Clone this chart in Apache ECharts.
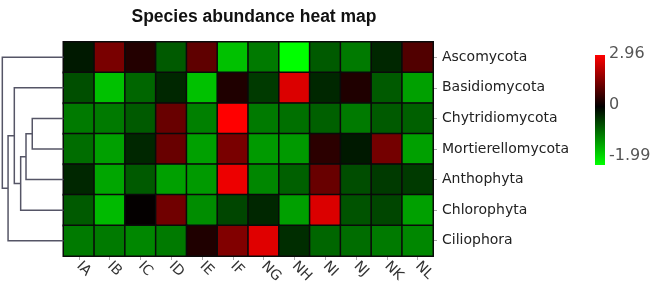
<!DOCTYPE html>
<html>
<head>
<meta charset="utf-8">
<script src="https://cdn.jsdelivr.net/npm/echarts@6/dist/echarts.min.js"></script>
<style>
  html, body { margin: 0; padding: 0; background: #fff; }
  #heatmap { width: 657px; height: 289px; }
</style>
</head>
<body>
<div id="heatmap"></div>
<script>
// samples along x, phyla along y (top to bottom)
const samples = ['IA', 'IB', 'IC', 'ID', 'IE', 'IF', 'NG', 'NH', 'NI', 'NJ', 'NK', 'NL'];
const phyla = ['Ascomycota', 'Basidiomycota', 'Chytridiomycota', 'Mortierellomycota', 'Anthophyta', 'Chlorophyta', 'Ciliophora'];

// z-scores, one row per phylum
const ascomycota        = [-0.2, 1.4, 0.4, -0.7, 1.1, -1.5, -0.95, -1.99, -0.7, -0.95, -0.3, 0.95];
const basidiomycota     = [-0.62, -1.5, -0.8, -0.3, -1.5, 0.35, -0.45, 2.55, -0.3, 0.35, -0.7, -1.25];
const chytridiomycota   = [-0.95, -0.95, -0.7, 1.2, -1.0, 2.96, -0.95, -0.87, -0.75, -0.95, -0.7, -0.75];
const mortierellomycota = [-0.85, -1.25, -0.3, 1.2, -1.25, 1.4, -1.2, -1.2, 0.5, -0.2, 1.35, -1.25];
const anthophyta        = [-0.3, -1.3, -0.7, -1.25, -1.2, 2.75, -1.05, -0.75, 1.2, -0.6, -0.45, -0.45];
const chlorophyta       = [-0.7, -1.45, 0.05, 1.3, -1.1, -0.55, -0.3, -1.25, 2.55, -0.65, -0.55, -1.25];
const ciliophora        = [-0.95, -0.95, -1.05, -0.95, 0.35, 1.5, 2.6, -0.35, -0.8, -0.85, -0.95, -1.05];
const rows = [ascomycota, basidiomycota, chytridiomycota, mortierellomycota, anthophyta, chlorophyta, ciliophora];

// colour scale limits and the labels beside the colour bar
const scaleMin = -1.99;
const scaleMax = 2.96;
const scaleLabels = ['2.96', '0', '-1.99'];

// row dendrogram, linkage style: [nodeA, nodeB, height]; leaves are 0..6, new nodes 7..
const linkage = [
  [2, 3, 3.1],
  [7, 4, 3.72],
  [8, 5, 4.25],
  [1, 9, 4.88],
  [10, 6, 5.5],
  [0, 11, 6.07]
];

const heatData = [];
rows.forEach((vals, r) => {
  vals.forEach((v, c) => heatData.push([c, r, v]));
});

// dendrogram U-shapes
const nodePos = phyla.map((p, i) => ({ y: i, h: 0 }));
const dendroLines = [];
linkage.forEach(([a, b, h]) => {
  const na = nodePos[a], nb = nodePos[b];
  dendroLines.push({ coords: [[na.h, na.y], [h, na.y], [h, nb.y], [nb.h, nb.y]] });
  nodePos.push({ y: (na.y + nb.y) / 2, h: h });
});

// green -> black -> red, black at zero
function scaleColor(v) {
  if (v < 0) {
    const g = Math.round(255 * Math.min(1, -v / -scaleMin));
    return 'rgb(0,' + g + ',0)';
  }
  const r = Math.round(255 * Math.min(1, v / scaleMax));
  return 'rgb(' + r + ',0,0)';
}
const colorStops = [];
for (let i = 0; i <= 60; i++) {
  colorStops.push(scaleColor(scaleMin + (scaleMax - scaleMin) * i / 60));
}

const titleFont = '"Liberation Sans", Arial, sans-serif';
const font = '"DejaVu Sans", sans-serif';
const gridTop = 42, gridHeight = 214, gridLeft = 63.5, gridWidth = 369.5;
const barX = 595, barY = 55, barH = 110;

const chart = echarts.init(document.getElementById('heatmap'));
const option = {
  animation: false,
  backgroundColor: '#fff',
  textStyle: { fontFamily: font },
  title: {
    text: 'Species abundance heat map',
    left: 249,
    textAlign: 'center',
    top: 3,
    textStyle: { fontSize: 17.5, fontWeight: 'bold', color: '#111', fontFamily: titleFont }
  },
  grid: [
    { left: gridLeft, top: gridTop, width: gridWidth, height: gridHeight },
    { left: 0, top: gridTop, width: gridLeft, height: gridHeight }
  ],
  xAxis: [
    {
      type: 'category',
      data: samples,
      gridIndex: 0,
      position: 'bottom',
      axisLine: { show: false },
      axisTick: { show: true, alignWithLabel: true, length: 4, lineStyle: { color: '#aaa' } },
      axisLabel: { rotate: -45, fontSize: 14, color: '#333', margin: 8, fontFamily: font }
    },
    { type: 'value', gridIndex: 1, min: 0, max: 6.3, inverse: true, show: false }
  ],
  yAxis: [
    {
      type: 'category',
      data: phyla,
      gridIndex: 0,
      inverse: true,
      position: 'right',
      axisLine: { show: true, lineStyle: { color: '#ccc' } },
      axisTick: { show: true, alignWithLabel: true, length: 4, lineStyle: { color: '#aaa' } },
      axisLabel: { fontSize: 14, color: '#222', margin: 9, fontFamily: font }
    },
    { type: 'value', gridIndex: 1, min: -0.5, max: 6.5, inverse: true, show: false }
  ],
  visualMap: {
    show: false,
    type: 'continuous',
    min: scaleMin,
    max: scaleMax,
    seriesIndex: 0,
    inRange: { color: colorStops }
  },
  series: [
    {
      type: 'heatmap',
      xAxisIndex: 0,
      yAxisIndex: 0,
      data: heatData,
      itemStyle: { borderColor: '#0a0a0a', borderWidth: 1.5 }
    },
    {
      type: 'lines',
      coordinateSystem: 'cartesian2d',
      xAxisIndex: 1,
      yAxisIndex: 1,
      polyline: true,
      silent: true,
      lineStyle: { color: '#555566', width: 1.5, opacity: 1 },
      data: dendroLines
    }
  ],
  graphic: [
    {
      type: 'rect',
      shape: { x: barX, y: barY, width: 10, height: barH },
      style: {
        fill: new echarts.graphic.LinearGradient(0, 0, 0, 1, [
          { offset: 0, color: '#ff0000' },
          { offset: 0.47, color: '#000000' },
          { offset: 1, color: '#00ff00' }
        ])
      }
    },
    {
      type: 'text', left: barX + 14, top: barY - 9,
      style: { text: scaleLabels[0], fill: '#555', font: '16px ' + font }
    },
    {
      type: 'text', left: barX + 14, top: barY + 42,
      style: { text: scaleLabels[1], fill: '#555', font: '16px ' + font }
    },
    {
      type: 'text', left: barX + 14, top: barY + 93,
      style: { text: scaleLabels[2], fill: '#555', font: '16px ' + font }
    }
  ]
};
chart.setOption(option);
</script>
</body>
</html>
